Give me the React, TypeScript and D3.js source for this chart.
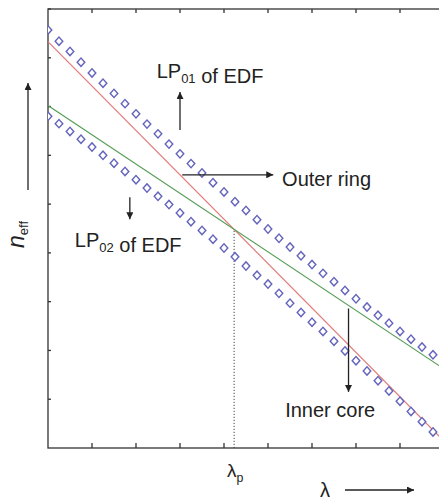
import React, { useEffect, useRef } from "react";
import * as d3 from "d3";

const W = 439;
const H = 501;

// wavelength samples (axis units) of the EDF mode curves
const lambdaSamples = [
  0, 0.25, 0.5, 0.75, 1, 1.25, 1.5, 1.75, 2, 2.25, 2.5, 2.75, 3, 3.25, 3.5, 3.75, 4, 4.25,
  4.5, 4.75, 5, 5.25, 5.5, 5.75, 6, 6.25, 6.5, 6.75, 7, 7.25, 7.5, 7.75, 8, 8.25, 8.5, 8.75,
];
const lp01Edf = [
  8.57, 8.34, 8.13, 7.91, 7.69, 7.48, 7.27, 7.06, 6.85, 6.64, 6.44, 6.23, 6.03, 5.83, 5.64, 5.44, 5.25, 5.05,
  4.87, 4.68, 4.49, 4.3, 4.12, 3.94, 3.76, 3.58, 3.41, 3.23, 3.06, 2.89, 2.72, 2.56, 2.39, 2.23, 2.07, 1.91,
];
const lp02Edf = [
  6.8, 6.65, 6.49, 6.33, 6.17, 6.0, 5.84, 5.67, 5.5, 5.33, 5.16, 4.99, 4.82, 4.64, 4.46, 4.28, 4.1, 3.92,
  3.73, 3.54, 3.36, 3.17, 2.97, 2.78, 2.58, 2.39, 2.19, 1.99, 1.79, 1.58, 1.38, 1.17, 0.96, 0.75, 0.54, 0.33,
];

// step-index fibre curves
const outerRingX = [0, 9];
const outerRingY = [8.33, 0.14];
const innerCoreX = [0, 9];
const innerCoreY = [7.02, 1.62];

const lambdaP = 4.23;
const xTicks = [1, 2, 3, 4, 5, 6, 7, 8, 9, 10];
const yTicks = [1, 2, 3, 4, 5, 6, 7, 8, 9];

const FONT = "'Liberation Sans', Arial, sans-serif";
const INK = "#222";

export default function App() {
  const el = useRef<SVGSVGElement | null>(null);

  useEffect(() => {
    const svg = d3.select(el.current);
    svg.selectAll("*").remove();

    const x = d3.scaleLinear().domain([0, 10]).range([48, 488]);
    const y = d3.scaleLinear().domain([0, 9]).range([448, 9]);

    const defs = svg.append("defs");
    defs.append("clipPath").attr("id", "plot")
      .append("rect")
      .attr("x", x(0)).attr("y", y(9))
      .attr("width", x(10) - x(0)).attr("height", y(0) - y(9));
    defs.append("marker")
      .attr("id", "head")
      .attr("viewBox", "0 0 10 10")
      .attr("refX", 10).attr("refY", 5)
      .attr("markerWidth", 8).attr("markerHeight", 7)
      .attr("markerUnits", "userSpaceOnUse")
      .attr("orient", "auto")
      .append("path")
      .attr("d", "M0,0L10,5L0,10Z")
      .attr("fill", INK);

    svg.append("rect").attr("width", W).attr("height", H).attr("fill", "#fff");

    // frame
    const frame = svg.append("g").attr("stroke", "#333").attr("stroke-width", 1.3).attr("fill", "none");
    frame.append("rect")
      .attr("x", x(0)).attr("y", y(9))
      .attr("width", x(10) - x(0)).attr("height", y(0) - y(9));
    frame.selectAll(".bt").data(xTicks).join("line")
      .attr("x1", d => x(d)).attr("x2", d => x(d))
      .attr("y1", y(0)).attr("y2", y(0) - 5);
    frame.selectAll(".tt").data(xTicks).join("line")
      .attr("x1", d => x(d)).attr("x2", d => x(d))
      .attr("y1", y(9)).attr("y2", y(9) + 4);
    frame.selectAll(".lt").data(yTicks).join("line")
      .attr("x1", x(0)).attr("x2", x(0) + 3)
      .attr("y1", d => y(d)).attr("y2", d => y(d));

    const plot = svg.append("g").attr("clip-path", "url(#plot)");
    const line = d3.line<[number, number]>().x(d => x(d[0])).y(d => y(d[1]));

    // lambda_p marker
    plot.append("line")
      .attr("x1", x(lambdaP)).attr("x2", x(lambdaP))
      .attr("y1", y(0)).attr("y2", y(8.33 - 0.91 * lambdaP))
      .attr("stroke", "#444").attr("stroke-width", 1)
      .attr("stroke-dasharray", "1.2,1.8");

    plot.append("path")
      .attr("d", line(d3.zip(outerRingX, outerRingY) as [number, number][]))
      .attr("fill", "none").attr("stroke", "#e27a7a").attr("stroke-width", 1.1);
    plot.append("path")
      .attr("d", line(d3.zip(innerCoreX, innerCoreY) as [number, number][]))
      .attr("fill", "none").attr("stroke", "#559e55").attr("stroke-width", 1.1);

    const diamond = d3.symbol().type(d3.symbolSquare).size(29)();
    [lp01Edf, lp02Edf].forEach(series => {
      plot.append("g").selectAll("path")
        .data(d3.zip(lambdaSamples, series))
        .join("path")
        .attr("d", diamond)
        .attr("transform", d => `translate(${x(d[0])},${y(d[1])}) scale(1,1.1) rotate(45)`)
        .attr("fill", "#fff")
        .attr("stroke", "#6464bc")
        .attr("stroke-width", 1.35);
    });

    // annotations
    const arrow = (x1: number, y1: number, x2: number, y2: number) =>
      svg.append("line")
        .attr("x1", x1).attr("y1", y1).attr("x2", x2).attr("y2", y2)
        .attr("stroke", INK).attr("stroke-width", 1.3)
        .attr("marker-end", "url(#head)");

    const label = (tx: number, ty: number, parts: [string, boolean][], size = 20) => {
      const t = svg.append("text")
        .attr("x", tx).attr("y", ty)
        .attr("font-family", FONT).attr("font-size", size).attr("fill", INK);
      parts.forEach(([s, sub]) => {
        t.append("tspan")
          .attr("font-size", sub ? size * 0.65 : size)
          .attr("dy", sub ? 5 : 0)
          .text(s);
        if (sub) t.append("tspan").attr("dy", -5).text("");
      });
      return t;
    };

    arrow(x(3.0), y(6.52), x(3.0), y(7.3));
    label(x(2.47), y(7.58), [["LP", false], ["01", true], [" of EDF", false]]);

    arrow(x(3.05), y(5.6), x(5.12), y(5.6));
    label(x(5.32), y(5.37), [["Outer ring", false]]);

    arrow(x(1.86), y(5.14), x(1.86), y(4.69));
    label(x(0.61), y(4.13), [["LP", false], ["02", true], [" of EDF", false]]);

    arrow(x(6.83), y(2.86), x(6.83), y(1.15));
    label(x(5.39), y(0.64), [["Inner core", false]]);

    // axis titles
    label(x(lambdaP) - 7, 477, [["λ", false], ["p", true]], 19);
    label(320, 497, [["λ", false]], 20);
    arrow(345, 490, 414, 490);

    arrow(28, 190, 28, 83);
    svg.append("text")
      .attr("transform", "translate(24,248) rotate(-90)")
      .attr("font-family", FONT).attr("fill", INK)
      .call(t => {
        t.append("tspan").attr("font-size", 23).attr("font-style", "italic").text("n");
        t.append("tspan").attr("font-size", 13).attr("dy", 4).text("eff");
      });
  }, []);

  return (
    <svg
      ref={el}
      width={W}
      height={H}
      style={{ position: "absolute", left: 0, top: 0, display: "block" }}
    />
  );
}
